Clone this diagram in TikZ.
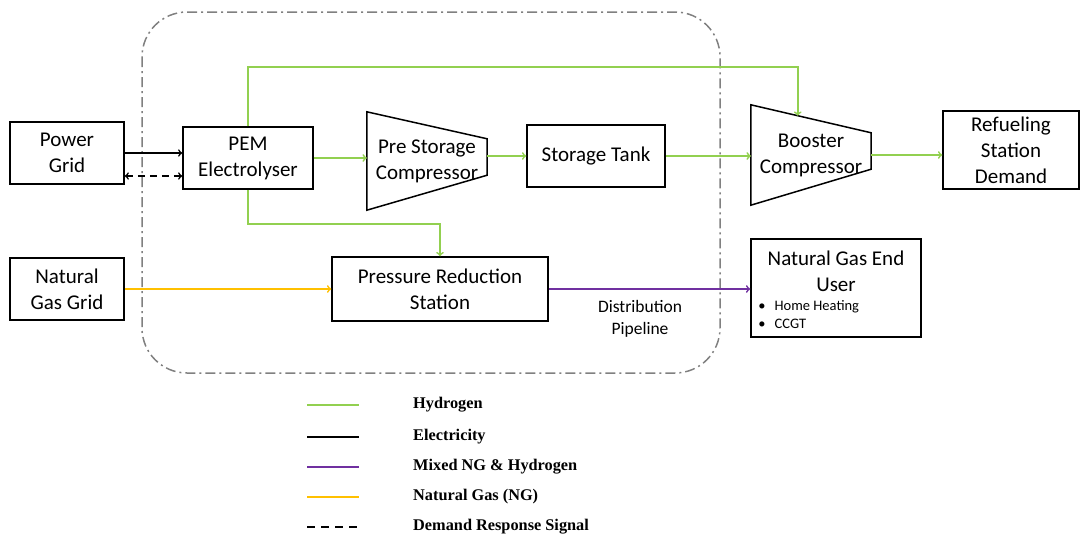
\documentclass[tikz,border=0pt]{standalone}
\usepackage{fontspec}
\setmainfont{Carlito}
\newfontfamily\legfont{Liberation Serif}
\usetikzlibrary{calc,positioning}

\definecolor{hgreen}{RGB}{146,208,80}
\definecolor{mixpurple}{RGB}{112,48,160}
\definecolor{ngyellow}{RGB}{255,192,0}

\tikzset{
  box/.style={draw, line width=1.5pt, inner sep=0pt, align=center,
    font=\fontsize{21}{26}\selectfont},
  comp/.style={inner sep=0pt, align=center, font=\fontsize{21}{26}\selectfont},
  hydro/.style={hgreen, line width=1.7pt},
  elec/.style={black, line width=1.6pt},
  mixed/.style={mixpurple, line width=1.7pt},
  natgas/.style={ngyellow, line width=1.7pt},
  legtext/.style={anchor=west, inner sep=0pt, font=\legfont\bfseries\fontsize{16.3}{19}\selectfont},
}

\begin{document}
\begin{tikzpicture}[x=1pt, y=-1pt, >=to]
    \useasboundingbox (0,0) rectangle (1081,538);
    % boundary of the hydrogen injection site
    \draw[gray, line width=1.5pt, rounded corners=45, dash pattern=on 10pt off 4pt on 2pt off 4pt]
        (142,12) rectangle (720,373);

    \node[box, minimum width=114, minimum height=62] (pg) at (67,153) {Power\\Grid};
    \node[box, minimum width=130, minimum height=62] (pem) at (248,158) {PEM\\Electrolyser};
    \node[comp, minimum width=120, minimum height=98] (pre) at (427,161) {Pre Storage\\Compressor};
    \node[box, minimum width=138, minimum height=62] (tank) at (596,156) {Storage Tank};
    \node[comp, minimum width=120, minimum height=100] (boo) at (811,155) {Booster\\Compressor};
    \node[box, minimum width=136, minimum height=78] (rsd) at (1011,150) {Refueling\\Station\\Demand};
    \node[box, minimum width=114, minimum height=62] (ngg) at (67,289) {Natural\\Gas Grid};
    \node[box, minimum width=216, minimum height=64] (prs) at (440,289) {Pressure Reduction\\Station};
    \node[box, minimum width=170, minimum height=98] (ngeu) at (836,288) {};
    \node[comp, below=12pt of ngeu.north] (ngeutitle) {Natural Gas End\\User};
    \node[comp, anchor=north west, align=left, font=\fontsize{14.5}{18}\selectfont]
        (ngeulist) at ($(ngeu.north west)+(8,62)$) {\textbullet\hspace{9pt}Home Heating\\\textbullet\hspace{9pt}CCGT};
    \node[comp, font=\fontsize{17.5}{22}\selectfont] (pipe) at (640,319) {Distribution\\Pipeline};

    % compressors
    \draw[line width=1.5pt] (pre.north west) -- ([yshift=-27]pre.north east)
        -- ([yshift=35]pre.south east) -- (pre.south west) -- cycle;
    \draw[line width=1.5pt] (boo.north west) -- ([yshift=-28]boo.north east)
        -- ([yshift=36]boo.south east) -- (boo.south west) -- cycle;
    \coordinate (booin) at ($(boo.north west)!0.39!([yshift=-28]boo.north east)$);

    % electricity and demand response
    \draw[elec, ->] (pg.east) -- (pg.east -| pem.west);
    \draw[elec, <->, dash pattern=on 7pt off 5pt] ([yshift=-23]pg.east) -- ([yshift=-23]pg.east -| pem.west);

    % hydrogen
    \draw[hydro, ->] (pem.east) -- (pem.east -| pre.west);
    \draw[hydro, ->] (pre.east |- tank.west) -- (tank.west);
    \draw[hydro, ->] (tank.east) -- (tank.east -| boo.west);
    \draw[hydro, ->] (boo.east) -- (boo.east -| rsd.west);
    \draw[hydro, ->] (pem.north) -- ++(0,-59) -| (booin);
    \draw[hydro, ->] (pem.south) -- ++(0,34) -| (prs.north);

    % natural gas and blend
    \draw[natgas, ->] (ngg.east) -- (prs.west);
    \draw[mixed, ->] (prs.east) -- (prs.east -| ngeu.west);

    % legend
    \foreach \y/\sty/\txt in {405/hydro/Hydrogen, 437/elec/Electricity,
        467/mixed/Mixed NG \& Hydrogen, 497/natgas/Natural Gas (NG)} {
      \draw[\sty] (307,\y) -- ++(52,0);
      \node[legtext] at (413,\y) {\txt};
    }
    \draw[elec, dash pattern=on 8pt off 6pt] (307,527) -- ++(52,0);
    \node[legtext] at (413,527) {Demand Response Signal};
\end{tikzpicture}
\end{document}
